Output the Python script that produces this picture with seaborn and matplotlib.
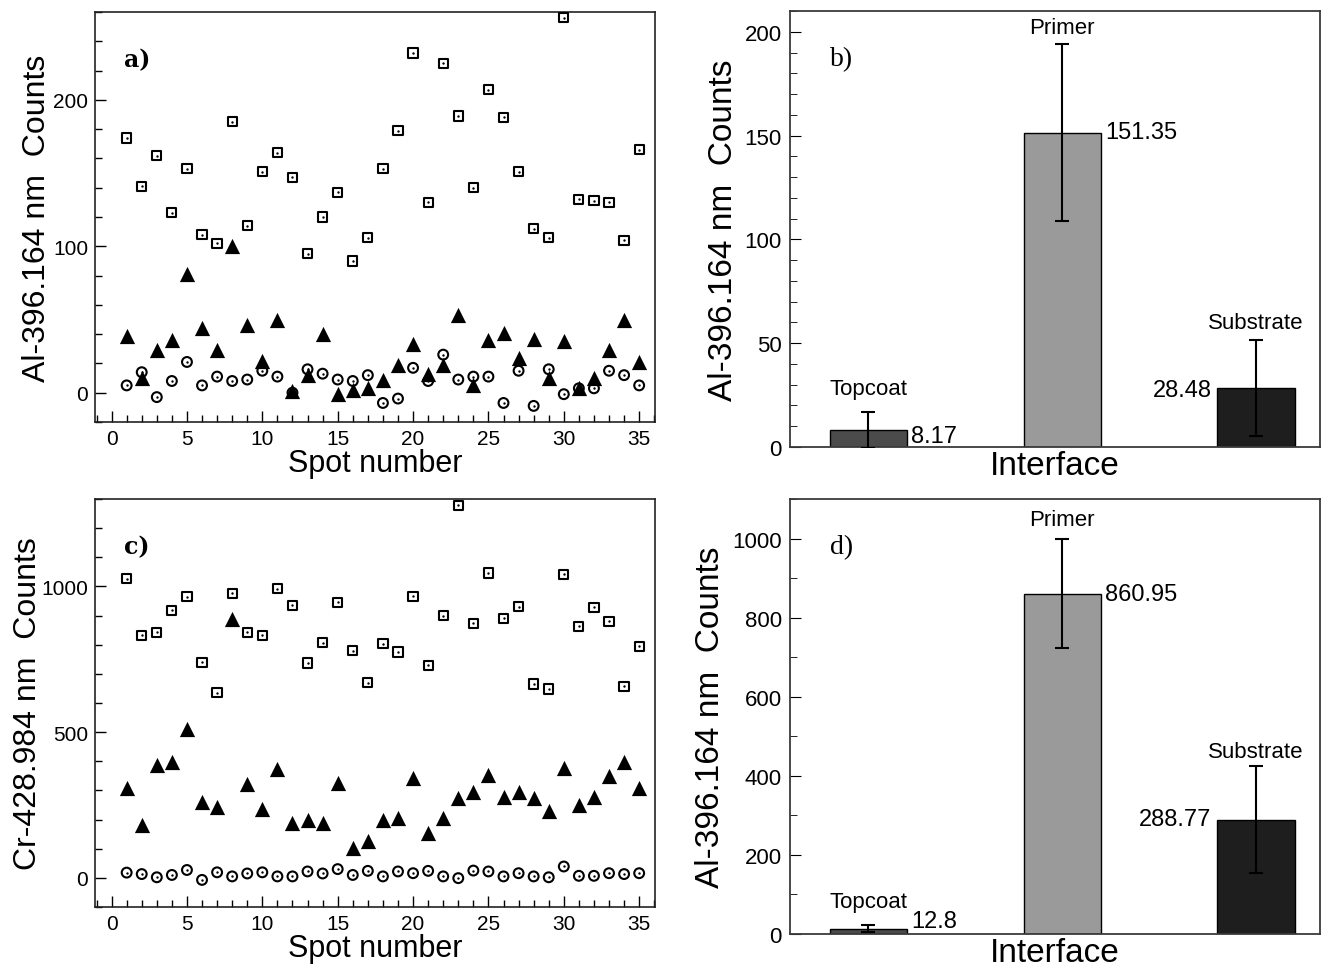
import numpy as np
import pandas as pd
import matplotlib
matplotlib.use("Agg")
import matplotlib.pyplot as plt
from matplotlib.ticker import MultipleLocator
import seaborn as sns

# ---------------- data ----------------
spots = list(range(1, 36))

# panel a: Al-396.164 nm counts per spot
a_primer = [174, 141, 162, 123, 153, 108, 102, 185, 114, 151, 164, 147, 95, 120, 137, 90, 106,
            153, 179, 232, 130, 225, 189, 140, 207, 188, 151, 112, 106, 256, 132, 131, 130, 104, 166]
a_substrate = [39, 10, 29, 36, 81, 44, 29, 100, 46, 22, 50, 1, 12, 40, -1, 2, 3,
               9, 19, 33, 13, 19, 53, 5, 36, 41, 24, 37, 10, 35, 3, 10, 29, 50, 21]
a_topcoat = [5, 14, -3, 8, 21, 5, 11, 8, 9, 15, 11, 0, 16, 13, 9, 8, 12,
             -7, -4, 17, 8, 26, 9, 11, 11, -7, 15, -9, 16, -1, 3, 3, 15, 12, 5]

# panel c: Cr-428.984 nm counts per spot
c_primer = [1026, 832, 842, 918, 965, 739, 636, 977, 842, 832, 992, 935, 737, 807, 945, 780, 669,
            803, 775, 966, 729, 900, 1279, 874, 1046, 891, 931, 665, 648, 1042, 863, 928, 881, 657, 795]
c_substrate = [308, 182, 388, 397, 510, 259, 243, 888, 323, 237, 373, 188, 199, 188, 325, 104, 125,
               199, 205, 342, 153, 205, 273, 293, 354, 279, 294, 273, 228, 376, 251, 277, 348, 396, 310]
c_topcoat = [18, 13, 2, 10, 27, -7, 19, 5, 15, 19, 5, 5, 22, 15, 30, 10, 24,
             5, 22, 16, 24, 5, -1, 25, 22, 5, 16, 5, 2, 39, 7, 7, 16, 13, 16]

# panels b, d: mean counts per interface
interfaces = ["Topcoat", "Primer", "Substrate"]
b_means = [8.17, 151.35, 28.48]
b_errs = [8.8, 42.7, 23.2]
d_means = [12.8, 860.95, 288.77]
d_errs = [9.0, 137.0, 135.0]
bar_colors = ["#4b4b4b", "#9a9a9a", "#1e1e1e"]

# ---------------- style ----------------
sns.set_style("white")
plt.rcParams["font.family"] = ["Liberation Sans", "DejaVu Sans"]
plt.rcParams["axes.linewidth"] = 1.2
for key in ["text.color", "axes.labelcolor", "xtick.color", "ytick.color"]:
    plt.rcParams[key] = "black"

W, H = 1327, 970
fig = plt.figure(figsize=(W / 100, H / 100), dpi=100)


def box(l, t, r, b):
    return [l / W, 1 - b / H, (r - l) / W, (b - t) / H]


ax_a = fig.add_axes(box(95, 13, 655, 423))
ax_c = fig.add_axes(box(95, 500, 655, 908))
ax_b = fig.add_axes(box(790, 12, 1320, 448))
ax_d = fig.add_axes(box(790, 500, 1320, 935))


def scatter_panel(ax, prim, subs, top, ylim, major, minor, ylabel, tag, ypad):
    df = pd.DataFrame({"spot": spots, "prim": prim, "subs": subs, "top": top})
    sns.scatterplot(data=df, x="spot", y="prim", marker="s", s=44, facecolors="none",
                    edgecolor="black", linewidth=1.5, ax=ax, zorder=3)
    sns.scatterplot(data=df, x="spot", y="prim", marker="o", s=3, color="black",
                    linewidth=0, ax=ax, zorder=4)
    sns.scatterplot(data=df, x="spot", y="subs", marker="^", s=120, color="black",
                    linewidth=0, ax=ax, zorder=3)
    sns.scatterplot(data=df, x="spot", y="top", marker="o", s=50, facecolors="none",
                    edgecolor="black", linewidth=1.5, ax=ax, zorder=3)
    sns.scatterplot(data=df, x="spot", y="top", marker="o", s=3, color="black",
                    linewidth=0, ax=ax, zorder=4)
    ax.set_xlim(-1.1, 36.05)
    ax.set_ylim(*ylim)
    ax.xaxis.set_major_locator(MultipleLocator(5))
    ax.xaxis.set_minor_locator(MultipleLocator(1))
    ax.yaxis.set_major_locator(MultipleLocator(major))
    ax.yaxis.set_minor_locator(MultipleLocator(minor))
    ax.tick_params(which="both", direction="in", top=False, right=False,
                   bottom=True, left=True, width=1.0, labelsize=15)
    ax.tick_params(which="major", length=8, pad=5)
    ax.tick_params(which="minor", length=5)
    ax.set_xlabel("Spot number", fontsize=22, labelpad=0)
    ax.set_ylabel(ylabel, fontsize=23, labelpad=ypad)
    for s in ax.spines.values():
        s.set_color("#222222")
        s.set_linewidth(1.2)
    ax.text(0.052, 0.885, tag, transform=ax.transAxes, fontsize=17, fontweight="bold",
            family="DejaVu Serif", va="center", ha="left")


scatter_panel(ax_a, a_primer, a_substrate, a_topcoat, (-20, 260), 100, 20,
              "Al-396.164 nm  Counts", "a)", 1)
scatter_panel(ax_c, c_primer, c_substrate, c_topcoat, (-100, 1300), 500, 100,
              "Cr-428.984 nm  Counts", "c)", -1)


def bar_panel(ax, means, errs, ylim, major, minor, tag, cat_y, val_pos):
    df = pd.DataFrame({"iface": interfaces, "val": means})
    sns.barplot(data=df, x="iface", y="val", hue="iface", order=interfaces,
                palette=dict(zip(interfaces, bar_colors)), width=0.4,
                edgecolor="black", linewidth=1.0, legend=False, ax=ax, zorder=2)
    ax.errorbar(x=[0, 1, 2], y=means, yerr=errs, fmt="none", ecolor="black",
                elinewidth=1.5, capsize=5, capthick=1.5, zorder=3)
    ax.set_xlim(-0.405, 2.33)
    ax.set_ylim(*ylim)
    ax.set_xticks([])
    ax.yaxis.set_major_locator(MultipleLocator(major))
    ax.yaxis.set_minor_locator(MultipleLocator(minor))
    ax.tick_params(which="both", direction="in", left=True, right=False, labelsize=16)
    ax.tick_params(which="major", length=8, pad=6)
    ax.tick_params(which="minor", length=5)
    ax.set_xlabel("Interface", fontsize=24, labelpad=2)
    ax.set_ylabel("Al-396.164 nm  Counts", fontsize=24, labelpad=4)
    for s in ax.spines.values():
        s.set_color("#3a3a3a")
        s.set_linewidth(1.3)
    for i, name in enumerate(interfaces):
        ax.text(i, cat_y[i], name, ha="center", va="center", fontsize=16)
    (x0, y0, h0), (x1, y1, h1), (x2, y2, h2) = val_pos
    ax.text(x0, y0, f"{means[0]:g}", ha=h0, va="center", fontsize=17)
    ax.text(x1, y1, f"{means[1]:g}", ha=h1, va="center", fontsize=17)
    ax.text(x2, y2, f"{means[2]:g}", ha=h2, va="center", fontsize=17)
    ax.text(0.075, 0.89, tag, transform=ax.transAxes, fontsize=20,
            family="Liberation Serif", va="center", ha="left")


bar_panel(ax_b, b_means, b_errs, (0, 210), 50, 10, "b)", [28, 202, 60],
          [(0.22, 5.3, "left"), (1.22, 151.8, "left"), (1.77, 27.5, "right")])
bar_panel(ax_d, d_means, d_errs, (0, 1100), 200, 100, "d)", [83, 1048, 462],
          [(0.22, 33, "left"), (1.22, 861, "left"), (1.77, 290, "right")])

fig.savefig("out.png", dpi=100)
